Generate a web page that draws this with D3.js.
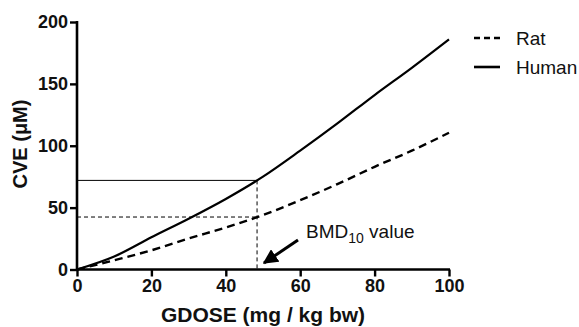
<!DOCTYPE html>
<html>
<head>
<meta charset="utf-8">
<script src="https://cdn.jsdelivr.net/npm/d3@7"></script>
<style>
  body { margin: 0; background: #fff; }
  text { font-family: "Liberation Sans", Arial, sans-serif; }
</style>
</head>
<body>
<div id="chart"></div>
<script>
const dose = [0, 10, 20, 30, 40, 50, 60, 70, 80, 90, 100];
const human = [0, 10.5, 26, 41, 57, 75, 96, 118, 141, 163, 186];
const rat = [0, 7.5, 15.5, 25, 34, 44, 56, 69, 83, 96, 110.5];
const xTicks = [0, 20, 40, 60, 80, 100];
const yTicks = [0, 50, 100, 150, 200];
const bmdDose = 48.4;
const bmdHuman = 72;
const bmdRat = 42.4;
const seriesNames = ['Rat', 'Human'];

const width = 579, height = 327;
const svg = d3.select('#chart').append('svg')
  .attr('width', width)
  .attr('height', height);

const x = d3.scaleLinear().domain([0, 100]).range([77, 449]);
const y = d3.scaleLinear().domain([0, 200]).range([269.5, 22]);

const line = d3.line()
  .x(d => x(d[0]))
  .y(d => y(d[1]))
  .curve(d3.curveMonotoneX);

// reference lines
svg.append('line')
  .attr('x1', x(0)).attr('x2', x(bmdDose))
  .attr('y1', y(bmdHuman)).attr('y2', y(bmdHuman))
  .attr('stroke', '#000').attr('stroke-width', 1);
svg.append('line')
  .attr('x1', x(0)).attr('x2', x(bmdDose))
  .attr('y1', y(bmdRat)).attr('y2', y(bmdRat))
  .attr('stroke', '#000').attr('stroke-width', 1)
  .attr('stroke-dasharray', '4,3');
svg.append('line')
  .attr('x1', x(bmdDose)).attr('x2', x(bmdDose))
  .attr('y1', y(bmdHuman)).attr('y2', y(0))
  .attr('stroke', '#000').attr('stroke-width', 1)
  .attr('stroke-dasharray', '4,3');

// curves
svg.append('path')
  .datum(dose.map((d, i) => [d, rat[i]]))
  .attr('fill', 'none')
  .attr('stroke', '#000')
  .attr('stroke-width', 2.4)
  .attr('stroke-dasharray', '8,5')
  .attr('d', line);
svg.append('path')
  .datum(dose.map((d, i) => [d, human[i]]))
  .attr('fill', 'none')
  .attr('stroke', '#000')
  .attr('stroke-width', 2.2)
  .attr('d', line);

// axes
const xAxis = svg.append('g')
  .attr('transform', `translate(0,${y(0)})`)
  .call(d3.axisBottom(x).tickValues(xTicks).tickSize(7).tickPadding(3).tickSizeOuter(0));
const yAxis = svg.append('g')
  .attr('transform', `translate(${x(0)},0)`)
  .call(d3.axisLeft(y).tickValues(yTicks).tickSize(7).tickPadding(2).tickSizeOuter(0));

[xAxis, yAxis].forEach(g => {
  g.select('.domain').attr('stroke-width', 2.6);
  g.selectAll('.tick line').attr('stroke-width', 2.4);
  g.selectAll('.tick text')
    .attr('font-size', 18)
    .attr('font-weight', 'bold')
    .attr('font-family', '"Liberation Sans", Arial, sans-serif')
    .attr('fill', '#111');
});
xAxis.select('.domain').attr('d', `M${x(0) - 1},0H${x(100) + 1}`);
yAxis.select('.domain').attr('d', `M0,${y(200) - 1}V${y(0) + 1}`);

// axis titles
svg.append('text')
  .attr('x', 263).attr('y', 322)
  .attr('text-anchor', 'middle')
  .attr('font-size', 21).attr('font-weight', 'bold')
  .attr('fill', '#111')
  .text('GDOSE (mg / kg bw)');
svg.append('text')
  .attr('transform', 'translate(27,144) rotate(-90)')
  .attr('text-anchor', 'middle')
  .attr('font-size', 20).attr('font-weight', 'bold')
  .attr('fill', '#111')
  .text('CVE (μM)');

// legend
const legend = svg.append('g');
seriesNames.forEach((name, i) => {
  const ly = 38 + i * 29;
  legend.append('line')
    .attr('x1', 474).attr('x2', 500)
    .attr('y1', ly).attr('y2', ly)
    .attr('stroke', '#000').attr('stroke-width', 2.6)
    .attr('stroke-dasharray', name === 'Rat' ? '6,4' : null);
  legend.append('text')
    .attr('x', 516).attr('y', ly + 7)
    .attr('font-size', 19)
    .attr('fill', '#111')
    .text(name);
});

// annotation
const ann = svg.append('text')
  .attr('x', 306).attr('y', 238)
  .attr('font-size', 19)
  .attr('fill', '#111');
ann.append('tspan').text('BMD');
ann.append('tspan').attr('font-size', 14).attr('dy', 5).text('10');
ann.append('tspan').attr('dy', -5).text(' value');

svg.append('defs').append('marker')
  .attr('id', 'arrow')
  .attr('viewBox', '0 0 10 10')
  .attr('refX', 9).attr('refY', 5)
  .attr('markerWidth', 5).attr('markerHeight', 5)
  .attr('markerUnits', 'strokeWidth')
  .attr('orient', 'auto')
  .append('path')
  .attr('d', 'M0,0L10,5L0,10z')
  .attr('fill', '#000');
svg.append('line')
  .attr('x1', 298).attr('y1', 240)
  .attr('x2', 264).attr('y2', 263)
  .attr('stroke', '#000').attr('stroke-width', 3)
  .attr('marker-end', 'url(#arrow)');
</script>
</body>
</html>
